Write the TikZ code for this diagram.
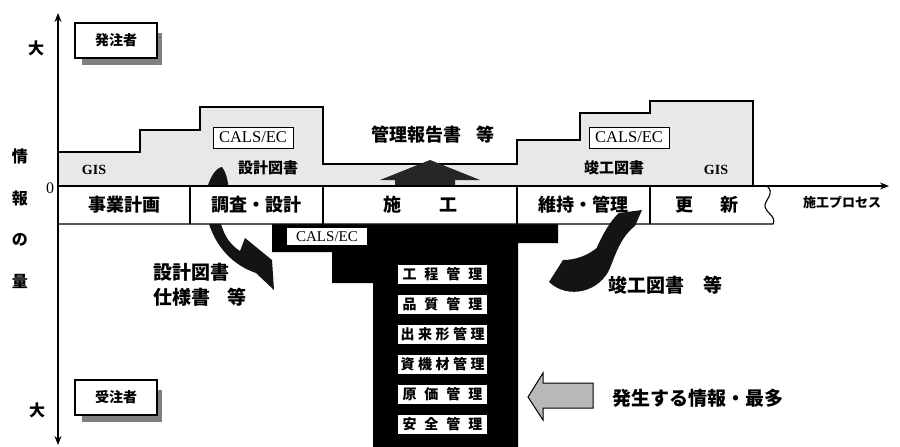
\documentclass[tikz,border=0pt]{standalone}
\usepackage{fontspec}
\setmainfont{Liberation Serif}
\newfontfamily\jp{Noto Sans CJK JP}
\usetikzlibrary{arrows.meta}
\tikzset{
  jp/.style={font=\jp\bfseries\fontsize{#1}{#1}\selectfont, inner sep=0pt},
  lat/.style={font=\fontsize{#1}{#1}\selectfont, inner sep=0pt},
  stip/.style={fill=black!9},
  darkfill/.style={fill=black!92},
  calsbox/.style={draw=black, line width=1pt, fill=white, minimum width=80pt, minimum height=21pt, inner sep=0pt, font=\fontsize{16.5}{16.5}\selectfont},
  mgmt/.style={fill=white, minimum width=89pt, minimum height=19pt, inner sep=0pt, font=\jp\bfseries\fontsize{14}{14}\selectfont},
  rolebox/.style={draw=black, line width=1.1pt, fill=white, minimum width=82pt, minimum height=35pt, inner sep=0pt, font=\jp\bfseries\fontsize{14}{14}\selectfont},
  axisarrow/.style={line width=1.2pt, {Stealth[length=9pt,width=7pt]}-{Stealth[length=9pt,width=7pt]}},
  axisarrowr/.style={line width=1.2pt, -{Stealth[length=9pt,width=7pt]}},
}
\begin{document}
\begin{tikzpicture}[x=1pt,y=-1pt]
\useasboundingbox (0,0) rectangle (900,447);

% stippled information region (owner side)
\path[stip] (58,186) -- (58,152) -- (140,152) -- (140,130) -- (200,130) -- (200,107) -- (323,107) -- (323,164) -- (517,164) -- (517,140) -- (580,140) -- (580,113) -- (650,113) -- (650,101) -- (753,101) -- (753,186) -- cycle;
\draw[line width=1.1pt] (58,152) -- (140,152) -- (140,130) -- (200,130) -- (200,107) -- (323,107) -- (323,164) -- (517,164) -- (517,140) -- (580,140) -- (580,113) -- (650,113) -- (650,101) -- (753,101) -- (753,186);

% up arrow (management reports)
\fill[black!85] (395,186) -- (395,180) -- (380,180) -- (430,160) -- (480,180) -- (455,180) -- (455,186) -- cycle;

% black region (contractor side)
\fill[black] (272,224) -- (558,224) -- (558,243) -- (518,243) -- (518,447) -- (373,447) -- (373,283) -- (332,283) -- (332,252) -- (272,252) -- cycle;

% left curved arrow (design documents)
\fill[darkfill] (206,192) .. controls (210,176) and (216,168) .. (222,167) .. controls (226,172) and (228,180) .. (229,192) -- (221,224) .. controls (225,238) and (232,246) .. (240,251) -- (245,238) -- (272,260) -- (274,290) -- (256,273) .. controls (238,267) and (218,252) .. (209,224) -- cycle;

% process bar
\draw[line width=1.1pt, fill=white] (58,186) -- (767,186) .. controls (775,193) and (766,199) .. (765,205) .. controls (764,212) and (777,216) .. (773,224) -- (58,224);
\foreach \xx in {190,323,517,650} \draw[line width=1.1pt] (\xx,186) -- (\xx,224);

% right curved arrow (as-built documents)
\fill[darkfill] (549,282) .. controls (568,300) and (600,292) .. (610,268) .. controls (617,250) and (622,236) .. (635,226) -- (642,210) -- (619,213) .. controls (611,220) and (604,232) .. (597,247) -- (599,246) .. controls (588,256) and (575,260) .. (563,260) -- cycle;

% axes
\coordinate (ytop) at (58,13);
\coordinate (ybot) at (58,445);
\coordinate (xo) at (58,186);
\coordinate (xend) at (889,186);
\draw[axisarrow] (ytop) -- (ybot);
\draw[axisarrowr] (xo) -- (xend);

% hollow arrow
\draw[line width=1pt, fill=black!28] (528,397) -- (543,373) -- (543,383) -- (593,383) -- (593,408) -- (543,408) -- (543,420) -- cycle;

% role boxes with shadows
\fill[black!50] (82,58) rectangle (162,65);
\fill[black!50] (155,33) rectangle (162,65);
\node[rolebox] (owner) at (116,40.5) {発注者};
\fill[black!50] (82,415) rectangle (162,422);
\fill[black!50] (155,390) rectangle (162,422);
\node[rolebox] (contr) at (116,397.5) {受注者};

% axis labels
\node[jp=16] (big1) at (36,48) {大};
\node[jp=16] (big2) at (37,410) {大};
\node[jp=16] (v1) at (20,156) {情};
\node[jp=16] (v2) at (20,198) {報};
\node[jp=16] (v3) at (20,240) {の};
\node[jp=16] (v4) at (20,281) {量};
\node[lat=16] (zero) at (50,188) {0};
\node[jp=13, anchor=west] (proc) at (803,202) {施工プロセス};

% bar labels
\node[jp=18] (p1) at (124,205) {事業計画};
\node[jp=18] (p2) at (256,205) {調査・設計};
\node[jp=18] (p3) at (420,205) {施\hspace{38pt}工};
\node[jp=18] (p4) at (583,205) {維持・管理};
\node[jp=18] (p5) at (707,205) {更\hspace{28pt}新};

% upper labels
\node[font=\bfseries\fontsize{14}{14}\selectfont, inner sep=0pt] (gis1) at (94,170) {GIS};
\node[calsbox] (cals1) at (253,137.5) {CALS/EC};
\node[jp=15] (sk1) at (268,168) {設計図書};
\node[jp=18] (rep) at (433,135) {管理報告書\hspace{16pt}等};
\node[calsbox] (cals2) at (629,137.5) {CALS/EC};
\node[jp=15] (sk2) at (614,168) {竣工図書};
\node[font=\bfseries\fontsize{14}{14}\selectfont, inner sep=0pt] (gis2) at (716,170) {GIS};

% lower labels
\node[jp=19, anchor=west] (d1) at (153,272) {設計図書};
\node[jp=19, anchor=west] (d2) at (153,297) {仕様書\hspace{17pt}等};
\node[jp=19, anchor=west] (d3) at (608,285) {竣工図書\hspace{19pt}等};
\node[jp=19, anchor=west] (most) at (612,398) {発生する情報・最多};

% CALS/EC on black
\node[fill=white, minimum width=80pt, minimum height=17pt, inner sep=0pt, font=\fontsize{15}{15}\selectfont] (cals3) at (327,236.5) {CALS/EC};

% management items
\node[mgmt] (m1) at (442.5,274) {\makebox[80pt][s]{工\hfill 程\hfill 管\hfill 理}};
\node[mgmt] (m2) at (442.5,304) {\makebox[80pt][s]{品\hfill 質\hfill 管\hfill 理}};
\node[mgmt] (m3) at (442.5,334) {\makebox[84pt][s]{出\hfill 来\hfill 形\hfill 管\hfill 理}};
\node[mgmt] (m4) at (442.5,364) {\makebox[84pt][s]{資\hfill 機\hfill 材\hfill 管\hfill 理}};
\node[mgmt] (m5) at (442.5,394) {\makebox[80pt][s]{原\hfill 価\hfill 管\hfill 理}};
\node[mgmt] (m6) at (442.5,424) {\makebox[80pt][s]{安\hfill 全\hfill 管\hfill 理}};
\end{tikzpicture}
\end{document}
